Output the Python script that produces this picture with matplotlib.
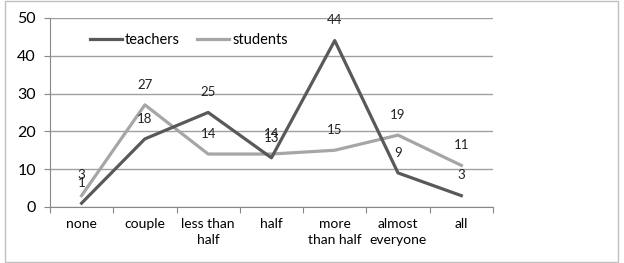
import matplotlib
matplotlib.use("Agg")
import matplotlib.pyplot as plt
from matplotlib.patches import Rectangle

categories = ["none", "couple", "less than\nhalf", "half", "more\nthan half", "almost\neveryone", "all"]
teachers = [1, 18, 25, 13, 44, 9, 3]
students = [3, 27, 14, 14, 15, 19, 11]
yticks = [0, 10, 20, 30, 40, 50]

plt.rcParams['font.family'] = ['Lato', 'DejaVu Sans']

fig = plt.figure(figsize=(6.24, 2.63), dpi=100)
ax = fig.add_axes([0.080, 0.213, 0.710, 0.719])

x = list(range(len(categories)))
dark = '#595959'
light = '#a6a6a6'
ax.plot(x, teachers, color=dark, lw=2.3, label='teachers', zorder=3)
ax.plot(x, students, color=light, lw=2.3, label='students', zorder=2)

for xi, v in zip(x, teachers):
    ax.annotate(str(v), (xi, v), xytext=(0, 14.5), textcoords='offset points',
                ha='center', va='center', fontsize=9.5, color='#222222')
for xi, v in zip(x, students):
    ax.annotate(str(v), (xi, v), xytext=(0, 14.5), textcoords='offset points',
                ha='center', va='center', fontsize=9.5, color='#222222')

ax.set_xlim(-0.5, len(categories) - 0.5)
ax.set_ylim(0, 50)
ax.set_yticks(yticks)
ax.set_yticklabels([str(t) for t in yticks], fontsize=11.5)
ax.yaxis.grid(True, color='#a0a0a0', lw=1)
ax.set_axisbelow(True)

ax.set_xticks([i - 0.5 for i in range(len(categories) + 1)])
ax.set_xticklabels([])
ax.set_xticks(x, minor=True)
ax.set_xticklabels(categories, minor=True, fontsize=10, linespacing=1.35)
ax.tick_params(axis='x', which='major', length=4, color='#888888', direction='out')
ax.tick_params(axis='x', which='minor', length=0, pad=8)
ax.tick_params(axis='y', length=4, color='#888888', pad=6)

for s in ['top', 'right']:
    ax.spines[s].set_visible(False)
for s in ['left', 'bottom']:
    ax.spines[s].set_color('#888888')

leg = ax.legend(loc='upper left', bbox_to_anchor=(0.06, 0.99), ncol=2, frameon=False,
                fontsize=10.5, handlelength=2.2, handletextpad=0.2, columnspacing=1.2)

fig.patches.append(Rectangle((0.008, 0.005), 0.983, 0.99, transform=fig.transFigure,
                             fill=False, edgecolor='#bfbfbf', lw=1))

fig.savefig('out.png', dpi=100)
